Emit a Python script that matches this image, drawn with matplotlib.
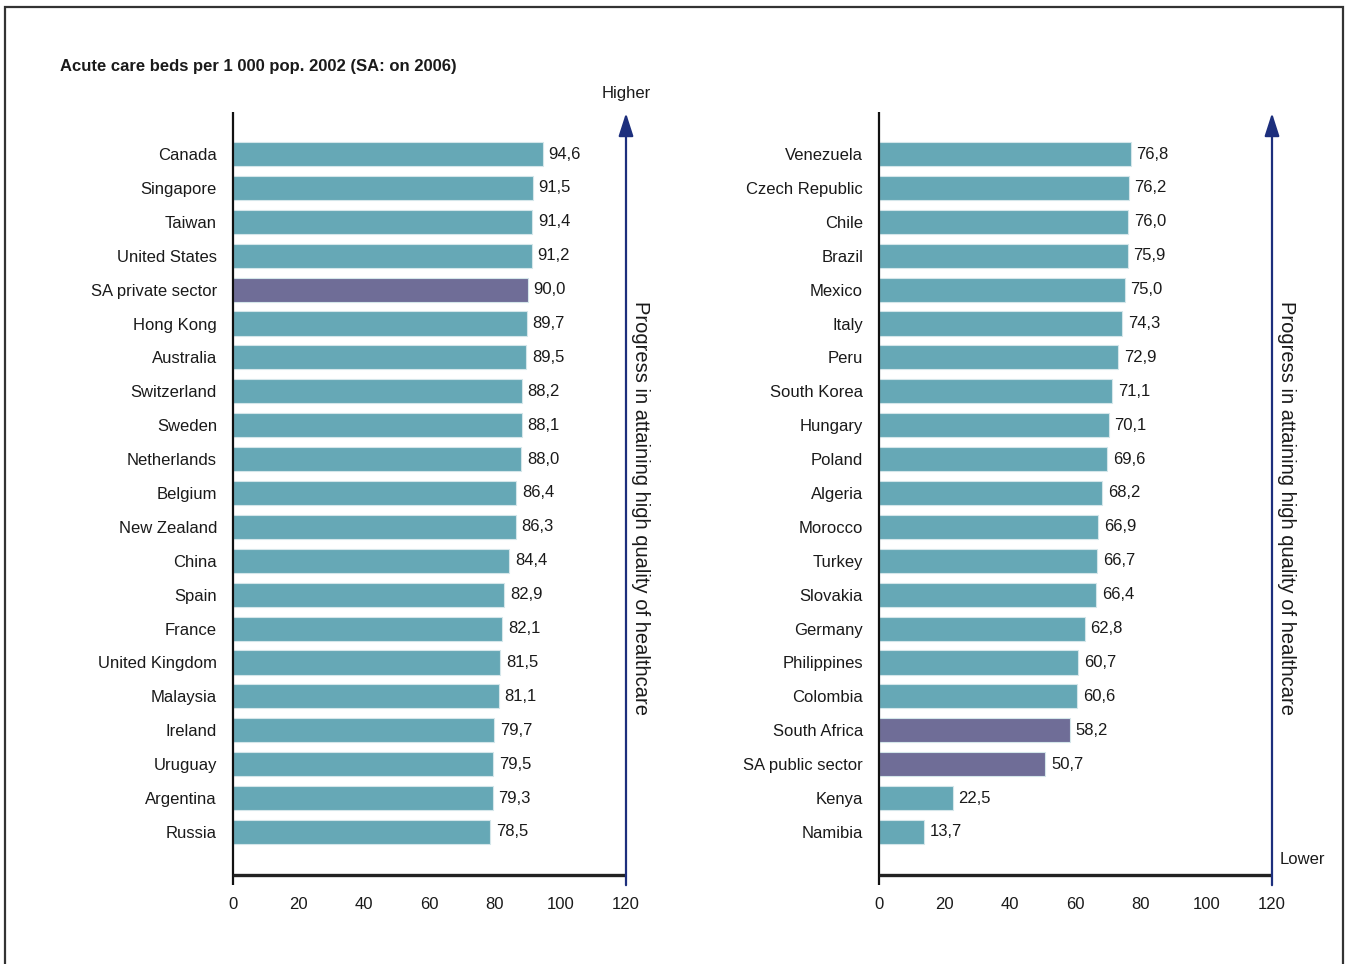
import matplotlib
matplotlib.use("Agg")
import matplotlib.pyplot as plt
from matplotlib import font_manager
from matplotlib.patches import Rectangle

# ---- data -------------------------------------------------------------
left_countries = ["Canada", "Singapore", "Taiwan", "United States", "SA private sector",
                  "Hong Kong", "Australia", "Switzerland", "Sweden", "Netherlands",
                  "Belgium", "New Zealand", "China", "Spain", "France",
                  "United Kingdom", "Malaysia", "Ireland", "Uruguay", "Argentina", "Russia"]
left_values = [94.6, 91.5, 91.4, 91.2, 90.0, 89.7, 89.5, 88.2, 88.1, 88.0,
               86.4, 86.3, 84.4, 82.9, 82.1, 81.5, 81.1, 79.7, 79.5, 79.3, 78.5]

right_countries = ["Venezuela", "Czech Republic", "Chile", "Brazil", "Mexico", "Italy",
                   "Peru", "South Korea", "Hungary", "Poland", "Algeria", "Morocco",
                   "Turkey", "Slovakia", "Germany", "Philippines", "Colombia",
                   "South Africa", "SA public sector", "Kenya", "Namibia"]
right_values = [76.8, 76.2, 76.0, 75.9, 75.0, 74.3, 72.9, 71.1, 70.1, 69.6, 68.2,
                66.9, 66.7, 66.4, 62.8, 60.7, 60.6, 58.2, 50.7, 22.5, 13.7]

highlight = {"SA private sector", "South Africa", "SA public sector"}
x_ticks = [0, 20, 40, 60, 80, 100, 120]

title = "Acute care beds per 1 000 pop. 2002 (SA: on 2006)"
side_label = "Progress in attaining high quality of healthcare"

# ---- style ------------------------------------------------------------
available = {f.name for f in font_manager.fontManager.ttflist}
family = [f for f in ["Liberation Sans Narrow", "Liberation Sans", "DejaVu Sans"] if f in available]
plt.rcParams["font.family"] = family

TEAL = "#66a8b6"
PURPLE = "#6f6d97"
NAVY = "#1d2f7d"
TEXT = "#1a1a1a"
FS = 12

W, H = 1350, 964
fig = plt.figure(figsize=(W / 100, H / 100), dpi=100)

# outer frame (bottom edge runs past the canvas)
fig.patches.append(Rectangle((5 / W, -0.05), (1343 - 5) / W, 1 - 7 / H + 0.05,
                             transform=fig.transFigure, fill=False,
                             edgecolor="#333333", linewidth=1.6))

fig.text(60 / W, 1 - 67 / H, title, fontsize=12, fontweight="bold",
         color=TEXT, ha="left", va="center")

y_top, y_bot = -1.24, 21.27


def panel(x0_px, countries, values, higher=False, lower=False):
    ax = fig.add_axes([x0_px / W, 1 - 875 / H, 393 / W, (875 - 112) / H])
    ax.set_xlim(0, 120)
    ax.set_ylim(y_bot, y_top)
    for s in ax.spines.values():
        s.set_visible(False)
    ypos = list(range(len(countries)))
    colors = [PURPLE if c in highlight else TEAL for c in countries]
    ax.barh(ypos, values, height=0.71, color=colors,
            edgecolor="#d4e6ea", linewidth=0.8)
    for y, v in zip(ypos, values):
        ax.text(v + 1.8, y, f"{v:.1f}".replace(".", ","), fontsize=FS,
                color=TEXT, ha="left", va="center")
    ax.set_yticks(ypos)
    ax.set_yticklabels(countries, fontsize=FS, color=TEXT)
    ax.tick_params(axis="y", length=0, pad=11.5)
    ax.set_xticks(x_ticks)
    ax.set_xticklabels([str(t) for t in x_ticks], fontsize=FS, color=TEXT)
    ax.tick_params(axis="x", length=0, pad=16)

    # axis lines
    ax.plot([0, 0], [y_bot + 0.3, y_top], color="#111111", lw=1.6,
            clip_on=False, solid_capstyle="butt")
    ax.plot([0, 120], [y_bot, y_bot], color="#222222", lw=2.4,
            clip_on=False, solid_capstyle="butt")
    # progress arrow
    ax.annotate("", xy=(120, y_top + 0.03), xytext=(120, y_bot + 0.3),
                xycoords="data", annotation_clip=False,
                arrowprops=dict(arrowstyle="-|>,head_length=1.4,head_width=0.45",
                                color=NAVY, lw=1.6, shrinkA=0, shrinkB=0))
    ax.text(124.3, 10.45, side_label, rotation=-90, fontsize=14.5, color=TEXT,
            ha="center", va="center")
    if higher:
        ax.text(120, y_top - 0.55, "Higher", fontsize=FS, color=TEXT,
                ha="center", va="center")
    if lower:
        ax.text(122.3, y_bot - 0.45, "Lower", fontsize=FS, color=TEXT,
                ha="left", va="center")
    return ax


panel(233, left_countries, left_values, higher=True)
panel(879, right_countries, right_values, lower=True)

fig.savefig("out.png", dpi=100, facecolor="white")
